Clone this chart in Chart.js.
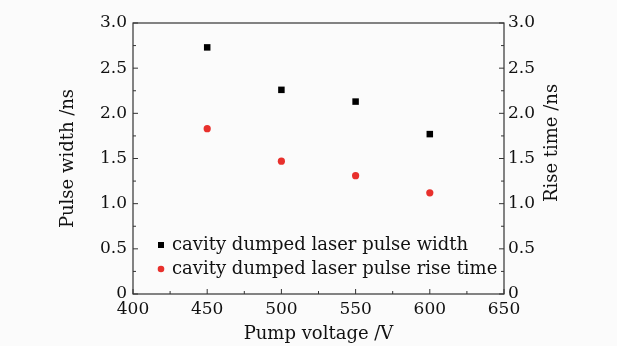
<!DOCTYPE html>
<html>
<head>
<meta charset="utf-8">
<script src="https://cdn.jsdelivr.net/npm/chart.js@4/dist/chart.umd.min.js"></script>
<style>
  html, body { margin: 0; padding: 0; background: #fbfbfb; }
  #wrap { width: 617px; height: 346px; }
</style>
</head>
<body>
<div id="wrap"><canvas id="chartCanvas"></canvas></div>
<script>
// datos
var voltajes = [450, 500, 550, 600];
var anchoPulso = [2.73, 2.26, 2.13, 1.77];
var tiempoSubida = [1.83, 1.47, 1.31, 1.12];
var ticksX = [400, 450, 500, 550, 600, 650];
var ticksY = [0, 0.5, 1.0, 1.5, 2.0, 2.5, 3.0];

var fuente = "'DejaVu Serif', serif";
var colorTexto = "#111";

function puntos(ys) {
  return voltajes.map(function (v, i) { return { x: v, y: ys[i] }; });
}

// marco, marcas hacia dentro, título derecho y leyenda dentro del área
var marcoPlugin = {
  id: "marco",
  afterDraw: function (chart) {
    var ctx = chart.ctx;
    var a = chart.chartArea;
    var sx = chart.scales.x, sy = chart.scales.y;
    ctx.save();
    ctx.strokeStyle = "#333";
    ctx.lineWidth = 1.2;
    ctx.strokeRect(a.left, a.top, a.right - a.left, a.bottom - a.top);
    ctx.lineWidth = 1;
    ctx.beginPath();
    for (var v = 400; v <= 650; v += 25) {
      var px = sx.getPixelForValue(v);
      var l = (v % 50 === 0) ? 5 : 3;
      ctx.moveTo(px, a.bottom); ctx.lineTo(px, a.bottom - l);
    }
    for (var t = 0; t <= 3.0001; t += 0.25) {
      var py = sy.getPixelForValue(t);
      var l2 = (Math.abs(t * 2 - Math.round(t * 2)) < 1e-6) ? 5 : 3;
      ctx.moveTo(a.left, py); ctx.lineTo(a.left + l2, py);
      ctx.moveTo(a.right, py); ctx.lineTo(a.right - l2, py);
    }
    ctx.stroke();

    // título del eje derecho, leído de abajo hacia arriba
    ctx.font = "18px " + fuente;
    ctx.fillStyle = colorTexto;
    ctx.textAlign = "center";
    ctx.textBaseline = "middle";
    ctx.save();
    ctx.translate(552, 143);
    ctx.rotate(-Math.PI / 2);
    ctx.fillText("Rise time /ns", 0, 0);
    ctx.restore();

    // leyenda
    ctx.textAlign = "left";
    var lx = a.left + 28, ly = a.bottom - 49;
    chart.data.datasets.forEach(function (ds, i) {
      var y = ly + i * 24;
      ctx.fillStyle = ds.backgroundColor;
      if (ds.pointStyle === "rect") {
        ctx.fillRect(lx - 3, y - 3, 6, 6);
      } else {
        ctx.beginPath(); ctx.arc(lx, y, 3.3, 0, Math.PI * 2); ctx.fill();
      }
      ctx.fillStyle = colorTexto;
      ctx.fillText(ds.label, lx + 11, y);
    });
    ctx.restore();
  }
};

var chartConfig = {
  type: "scatter",
  data: {
    datasets: [
      {
        label: "cavity dumped laser pulse width",
        data: puntos(anchoPulso),
        yAxisID: "y",
        pointStyle: "rect",
        pointRadius: 4.6,
        backgroundColor: "#000",
        borderColor: "#000",
        borderWidth: 0
      },
      {
        label: "cavity dumped laser pulse rise time",
        data: puntos(tiempoSubida),
        yAxisID: "y2",
        pointStyle: "circle",
        pointRadius: 3.6,
        backgroundColor: "#e8302c",
        borderColor: "#e8302c",
        borderWidth: 0
      }
    ]
  },
  options: {
    responsive: true,
    maintainAspectRatio: false,
    animation: false,
    layout: { padding: { left: 58, right: 57, top: 23, bottom: 0 } },
    plugins: { legend: { display: false }, tooltip: { enabled: false } },
    scales: {
      x: {
        type: "linear",
        min: 400, max: 650,
        afterBuildTicks: function (s) { s.ticks = ticksX.map(function (v) { return { value: v }; }); },
        afterFit: function (s) { s.height = 52; },
        grid: { display: false, drawTicks: false },
        border: { display: false },
        ticks: { color: colorTexto, font: { family: fuente, size: 17 }, padding: 5, maxRotation: 0 },
        title: { display: true, text: "Pump voltage /V", color: colorTexto, font: { family: fuente, size: 18 }, padding: { top: 0, bottom: 1 } }
      },
      y: {
        position: "left",
        min: 0, max: 3,
        afterBuildTicks: function (s) { s.ticks = ticksY.map(function (v) { return { value: v }; }); },
        afterFit: function (s) { s.width = 75; },
        grid: { display: false, drawTicks: false },
        border: { display: false },
        ticks: { color: colorTexto, font: { family: fuente, size: 17 }, padding: 6,
          callback: function (v) { return v === 0 ? "0" : v.toFixed(1); } },
        title: { display: true, text: "Pulse width /ns", color: colorTexto, font: { family: fuente, size: 18 }, padding: 0 }
      },
      y2: {
        position: "right",
        min: 0, max: 3,
        afterBuildTicks: function (s) { s.ticks = ticksY.map(function (v) { return { value: v }; }); },
        afterFit: function (s) { s.width = 56; },
        grid: { display: false, drawTicks: false },
        border: { display: false },
        ticks: { color: colorTexto, font: { family: fuente, size: 17 }, padding: 4,
          callback: function (v) { return v === 0 ? "0" : v.toFixed(1); } },
        title: { display: false }
      }
    }
  },
  plugins: [marcoPlugin]
};

var ctx = document.getElementById("chartCanvas").getContext("2d");
var myChart = new Chart(ctx, chartConfig);
</script>
</body>
</html>
